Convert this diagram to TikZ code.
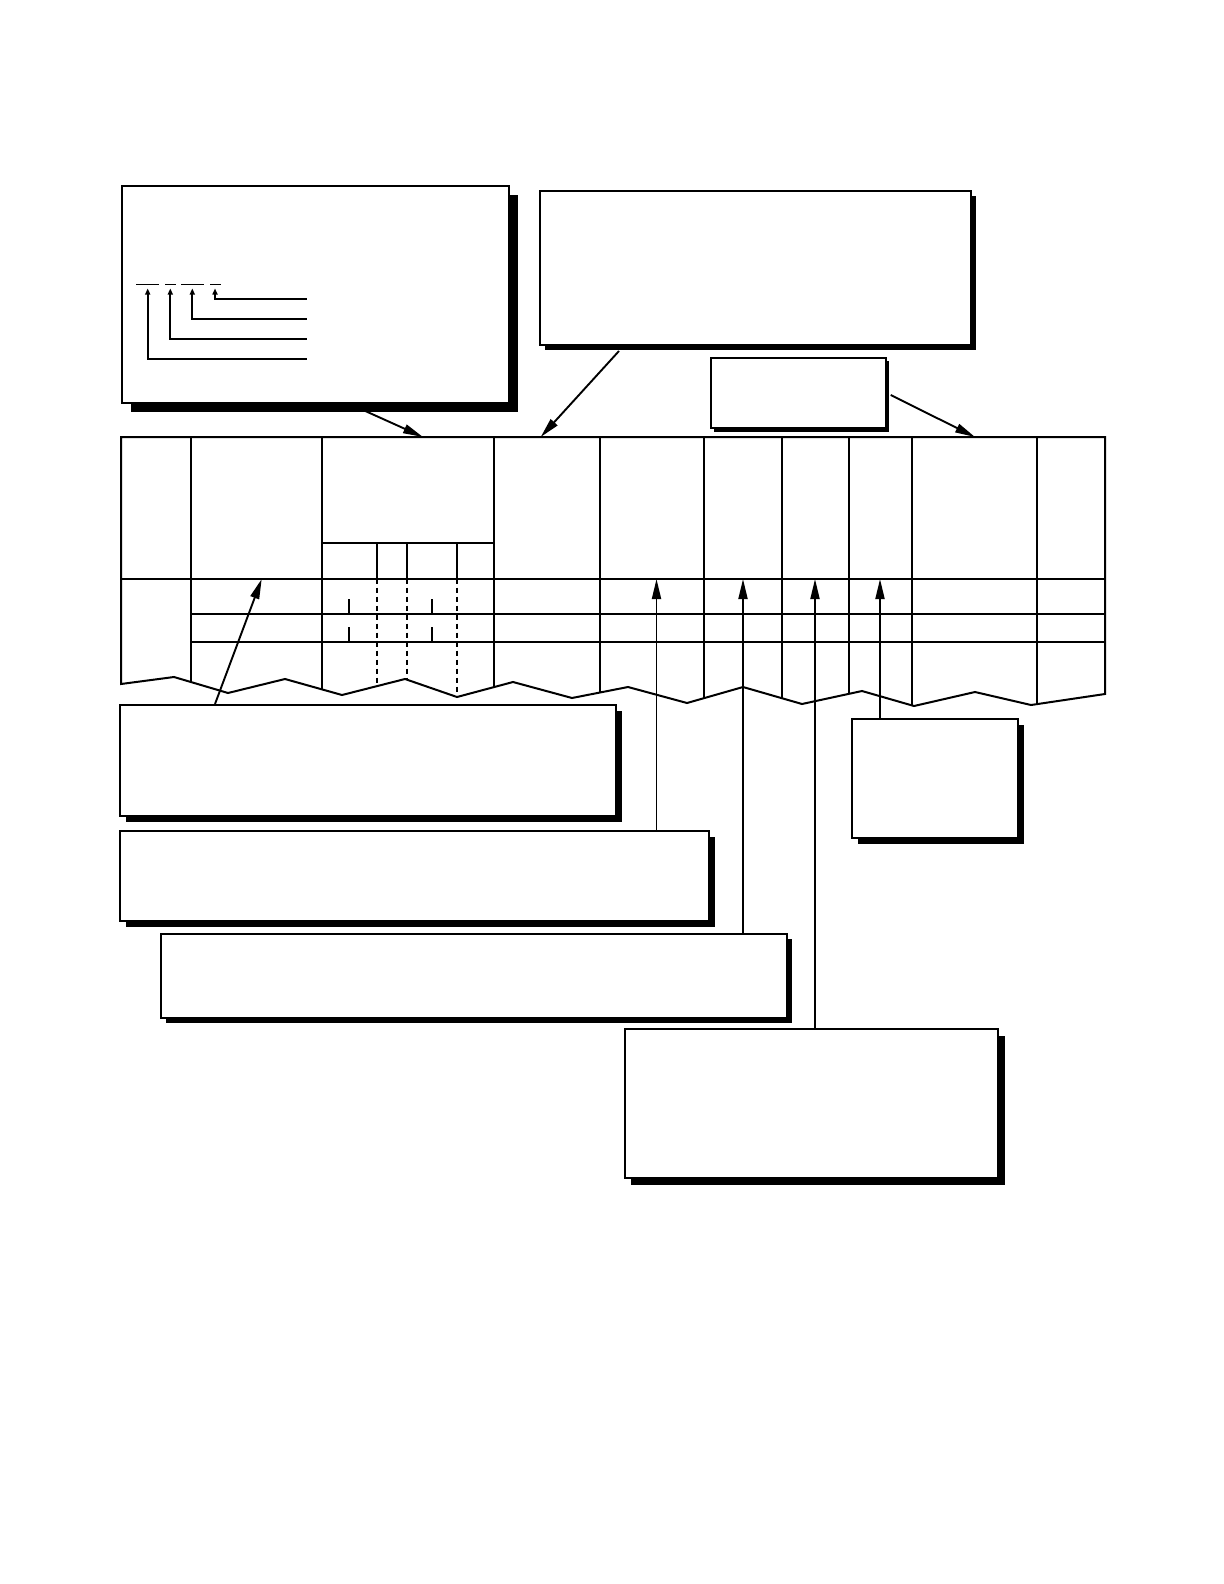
\documentclass[tikz,border=0pt]{standalone}
\usetikzlibrary{arrows.meta,shadows,fit}
\newcommand{\formedge}{(121,437) -- (1105,437) -- (1105,694) -- (1031,705) -- (975,692)
  -- (914,706) -- (862,691) -- (802,704) -- (743,687) -- (687,703) -- (628,687)
  -- (572,698) -- (513,682) -- (457,697) -- (405,679) -- (342,695) -- (285,679)
  -- (228,693) -- (174,677) -- (121,684) -- cycle}
\begin{document}
\begin{tikzpicture}[x=0.5pt,y=-0.5pt,
  notebox/.style={draw,fill=white,line width=1pt,inner sep=0pt,
    drop shadow={shadow xshift=#1,shadow yshift=-#1,fill=black,opacity=1}},
  notebox/.default=3pt,
  gridline/.style={line width=0.85pt},
  pointer/.style={line width=0.95pt,-{Triangle[length=10pt,width=4.5pt]}},
  minitip/.style={line width=1pt,-{Triangle[length=3pt,width=2.5pt]}}]
\useasboundingbox (0,0) rectangle (1224,1584);
% boxes above the form
\node[notebox=4.5pt,fit={(121.7,186) (509,402.7)}] (keybox) {};
\node[notebox=2.3pt,fit={(540,191) (971,345)}] (topbox) {};
\node[notebox=1.8pt,fit={(710.7,357.7) (885.7,428.3)}] (smallbox) {};
% code line in key box
\draw[line width=0.5pt] (136,284.3) -- (159,284.3);
\draw[line width=0.5pt] (165,284.3) -- (176,284.3);
\draw[line width=0.5pt] (181,284.3) -- (204.3,284.3);
\draw[line width=0.5pt] (210,284.3) -- (221,284.3);
\foreach \x/\y in {215/299,192.3/319,170.3/339,147.7/359.3}
  \draw[minitip] (306.7,\y) -| (\x,288.5);
% form with torn bottom edge
\begin{scope}
\clip \formedge;
\foreach \x in {190.7,322,494,600,704,782,849,912,1037}
  \draw[gridline] (\x,437) -- (\x,720);
\draw[gridline] (121,578.7) -- (1105,578.7);
\draw[gridline] (190.7,614.3) -- (1105,614.3);
\draw[gridline,line width=1.1pt] (190.7,641.7) -- (1105,641.7);
\draw[gridline] (322,543) -- (494,543);
\foreach \x in {377,407,457} {
  \draw[gridline,line width=1pt] (\x,543) -- (\x,578.7);
  \draw[gridline,line width=1pt,dash pattern=on 2.5pt off 2pt] (\x,578.7) -- (\x,720);
}
\foreach \x in {349.3,431.7} {
  \draw[gridline,line width=1pt] (\x,599) -- (\x,614.3);
  \draw[gridline,line width=1pt] (\x,627) -- (\x,641.7);
}
\end{scope}
\draw[gridline,line width=1pt] \formedge;
% boxes below the form
\node[notebox=3.2pt,fit={(120,705) (616,815.7)}] (leftbox) {};
\node[notebox=3.2pt,fit={(120,831) (709,921)}] (midbox) {};
\node[notebox=2.6pt,fit={(160.7,933.7) (787,1017.7)}] (lowbox) {};
\node[notebox=3.2pt,fit={(625,1029.3) (998.3,1178.3)}] (bottombox) {};
\node[notebox=3pt,fit={(852.3,719) (1017.7,837.7)}] (sidebox) {};
% arrow ends on the form
\coordinate (keyaim) at (423,437);
\coordinate (topaim) at (540.7,437);
\coordinate (smallaim) at (975,437);
\coordinate (leftaim) at (261.7,579);
\coordinate (midaim) at (656.5,579);
\coordinate (lowaim) at (743,579);
\coordinate (bottomaim) at (815,579);
\coordinate (sideaim) at (880,579);
% pointers
\draw[pointer] (keybox.south west) ++(245,7.5) -- (keyaim);
\draw[pointer] (topbox.south west) ++(80,5) -- (topaim);
\draw[pointer] (smallbox.east) ++(4,2) -- (smallaim);
\draw[pointer] (leftbox.north west) ++(96,0) -- (leftaim);
\draw[pointer] (midbox.north -| midaim) -- (midaim);
\draw[pointer] (lowbox.north -| lowaim) -- (lowaim);
\draw[pointer] (bottombox.north -| bottomaim) -- (bottomaim);
\draw[pointer] (sidebox.north -| sideaim) -- (sideaim);
\end{tikzpicture}
\end{document}
